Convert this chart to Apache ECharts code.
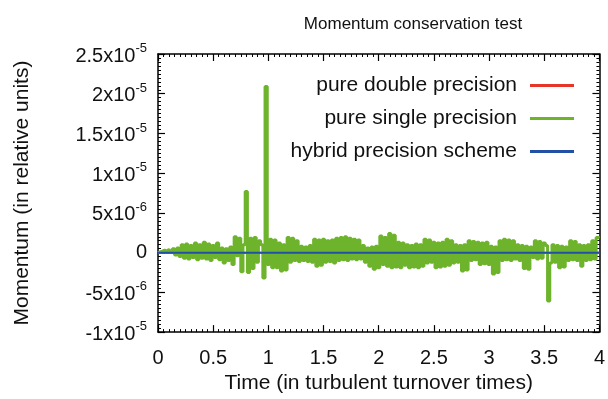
<!DOCTYPE html>
<html>
<head>
<meta charset="utf-8">
<script src="https://cdn.jsdelivr.net/npm/echarts@6/dist/echarts.min.js"></script>
<style>
  html, body { margin: 0; padding: 0; background: #fff; }
  #chart { width: 608px; height: 399px; }
</style>
</head>
<body>
<div id="chart"></div>
<script>
// Momentum drift (units of 1e-6) over four turbulent turnover times.
const sampleStep = 0.02; // turnover times between single-precision samples
const singleValues = [
  0, 0.1, 0.2, 0.3, 0.2, 0.4, 0.1, 0.5, -0.3, 0.6,
  -0.5, 1.0, -0.7, 1.1, -0.8, 0.9, -0.6, 1.2, -0.9, 1.0,
  -0.7, 1.3, -0.8, 1.1, -1.0, 0.9, -0.6, 1.2, -0.9, 0.6,
  -1.3, 0.5, -1.0, 0.7, -1.5, 2.0, -0.4, 1.8, -2.4, 1.0,
  7.7, -2.5, 1.8, -2.0, 1.9, -1.2, 1.5, 1.0, -3.2, 20.9,
  -1.5, 1.7, -1.9, 1.6, -1.9, 1.2, -2.3, 1.0, -2.2, 1.9,
  -1.2, 1.8, -1.0, 1.5, -1.1, 0.8, -1.0, 0.7, -1.1, 0.9,
  -1.2, 1.7, -1.7, 1.6, -1.6, 1.7, -1.2, 1.5, -1.1, 1.6,
  -1.3, 1.8, -1.0, 1.9, -0.9, 2.0, -1.0, 1.8, -0.8, 1.7,
  -0.9, 1.6, -0.8, 0.9, -1.2, 0.6, -1.7, 0.7, -2.1, 0.8,
  -1.9, 2.1, -1.5, 1.9, -1.7, 2.4, -1.9, 2.2, -1.8, 1.3,
  -1.9, 1.2, -1.6, 1.0, -1.9, 0.9, -1.8, 1.1, -1.9, 1.0,
  -1.7, 1.7, -1.3, 1.6, -1.2, 1.3, -1.9, 1.2, -1.8, 1.3,
  -1.7, 1.7, -1.6, 1.5, -1.3, 1.0, -1.2, 0.9, -2.3, 1.0,
  -2.2, 1.5, -1.0, 1.4, -0.9, 1.3, -1.5, 1.2, -1.4, 1.3,
  -1.5, 0.8, -2.7, 0.7, -2.5, 1.5, -1.0, 1.7, -0.9, 1.6,
  -1.0, 1.5, -0.8, 1.0, -1.0, 0.9, -2.0, 0.8, -2.1, 0.7,
  -0.6, 1.5, -0.8, 1.4, -0.7, 1.2, 0.9, -6.1, -1.3, 1.0,
  -1.2, 0.9, -1.9, 0.8, -1.8, 0.7, -1.0, 1.5, -0.9, 1.4,
  -1.0, 1.0, -1.7, 0.9, -1.0, 1.0, -0.9, 1.5, -0.8, 1.9,
  1.8
];
const doubleTimes = [0, 4];
const doubleValues = [0, 0];
const hybridTimes = [0, 4];
const hybridValues = [0, 0];

const seriesNames = ['pure double precision', 'pure single precision', 'hybrid precision scheme'];
const yTickValues = [-10, -5, 0, 5, 10, 15, 20, 25];
const yTickMantissa = ['-1', '-5', '0', '5', '1', '1.5', '2', '2.5'];
const yTickExponent = ['-5', '-6', '', '-6', '-5', '-5', '-5', '-5'];

const singleData = singleValues.map((v, i) => [+(i * sampleStep).toFixed(2), v]);
const pairs = (xs, ys) => xs.map((x, i) => [x, ys[i]]);

const FONT = '"Liberation Sans", Arial, Helvetica, sans-serif';

// "mantissa x 10^exponent" with the exponent raised; the whole block sits a little below its tick
function yLabel(value) {
  const i = yTickValues.indexOf(Math.round(value));
  if (i < 0) return '';
  const exp = yTickExponent[i];
  return exp ? '{m|' + yTickMantissa[i] + 'x10}{e|' + exp + '}' : '{z|' + yTickMantissa[i] + '}';
}

const chart = echarts.init(document.getElementById('chart'), null, { renderer: 'canvas' });

const axisLineStyle = { color: '#000', width: 1.5 };
const majorTick = { inside: true, length: 7, lineStyle: { color: '#000', width: 1.2 } };
const minorTick = { show: true, splitNumber: 10, length: 3, lineStyle: { color: '#000', width: 1 } };

chart.setOption({
  animation: false,
  backgroundColor: '#fff',
  title: {
    text: 'Momentum conservation test',
    left: 408, top: 11, textAlign: 'center',
    textStyle: { fontFamily: FONT, fontSize: 17, fontWeight: 'normal', color: '#111' }
  },
  legend: {
    orient: 'vertical',
    right: 34, top: 75,
    padding: 0,
    align: 'right',
    itemWidth: 44, itemHeight: 3, itemGap: 12,
    icon: 'rect',
    textStyle: {
      fontFamily: FONT, fontSize: 21, color: '#111',
      width: 220, align: 'right', lineHeight: 20, padding: [0, 8, 0, 0]
    },
    data: seriesNames
  },
  grid: { left: 158, right: 6, top: 54, bottom: 66 },
  xAxis: [{
    type: 'value', min: 0, max: 4, interval: 0.5,
    name: 'Time (in turbulent turnover times)',
    nameLocation: 'middle', nameGap: 39,
    nameTextStyle: { fontFamily: FONT, fontSize: 21, color: '#111' },
    axisLine: { onZero: false, lineStyle: axisLineStyle },
    axisTick: majorTick,
    minorTick: minorTick,
    axisLabel: { margin: 16, fontFamily: FONT, fontSize: 20, color: '#111', formatter: v => String(v) },
    splitLine: { show: false }
  }, {
    type: 'value', min: 0, max: 4, interval: 0.5, position: 'top',
    axisLine: { onZero: false, lineStyle: axisLineStyle },
    axisTick: majorTick,
    minorTick: minorTick,
    axisLabel: { show: false },
    splitLine: { show: false }
  }],
  yAxis: [{
    type: 'value', min: -10, max: 25, interval: 5,
    name: 'Momentum (in relative units)',
    nameLocation: 'middle', nameGap: 125,
    nameTextStyle: { fontFamily: FONT, fontSize: 21, color: '#111' },
    axisLine: { onZero: false, lineStyle: axisLineStyle },
    axisTick: majorTick,
    minorTick: minorTick,
    axisLabel: {
      margin: 11, formatter: yLabel,
      rich: {
        m: { fontFamily: FONT, fontSize: 20, color: '#111', lineHeight: 24, padding: [18, 0, 0, 0], verticalAlign: 'bottom' },
        e: { fontFamily: FONT, fontSize: 13, color: '#111', lineHeight: 12, verticalAlign: 'top' },
        z: { fontFamily: FONT, fontSize: 20, color: '#111', lineHeight: 24 }
      }
    },
    splitLine: { show: false }
  }, {
    type: 'value', min: -10, max: 25, interval: 5, position: 'right',
    axisLine: { onZero: false, lineStyle: axisLineStyle },
    axisTick: majorTick,
    minorTick: minorTick,
    axisLabel: { show: false },
    splitLine: { show: false }
  }],
  series: [{
    name: seriesNames[0], type: 'line', showSymbol: false, symbol: 'none',
    data: pairs(doubleTimes, doubleValues),
    itemStyle: { color: '#e8352a' },
    lineStyle: { color: '#e8352a', width: 2 }, z: 2
  }, {
    name: seriesNames[1], type: 'line', showSymbol: false, symbol: 'none',
    step: 'middle',
    data: singleData,
    itemStyle: { color: '#6db42c' },
    lineStyle: { color: '#6db42c', width: 3 }, z: 3
  }, {
    name: seriesNames[2], type: 'line', showSymbol: false, symbol: 'none',
    data: pairs(hybridTimes, hybridValues),
    itemStyle: { color: '#2150a6' },
    lineStyle: { color: '#2150a6', width: 2 }, z: 4
  }]
});
</script>
</body>
</html>
